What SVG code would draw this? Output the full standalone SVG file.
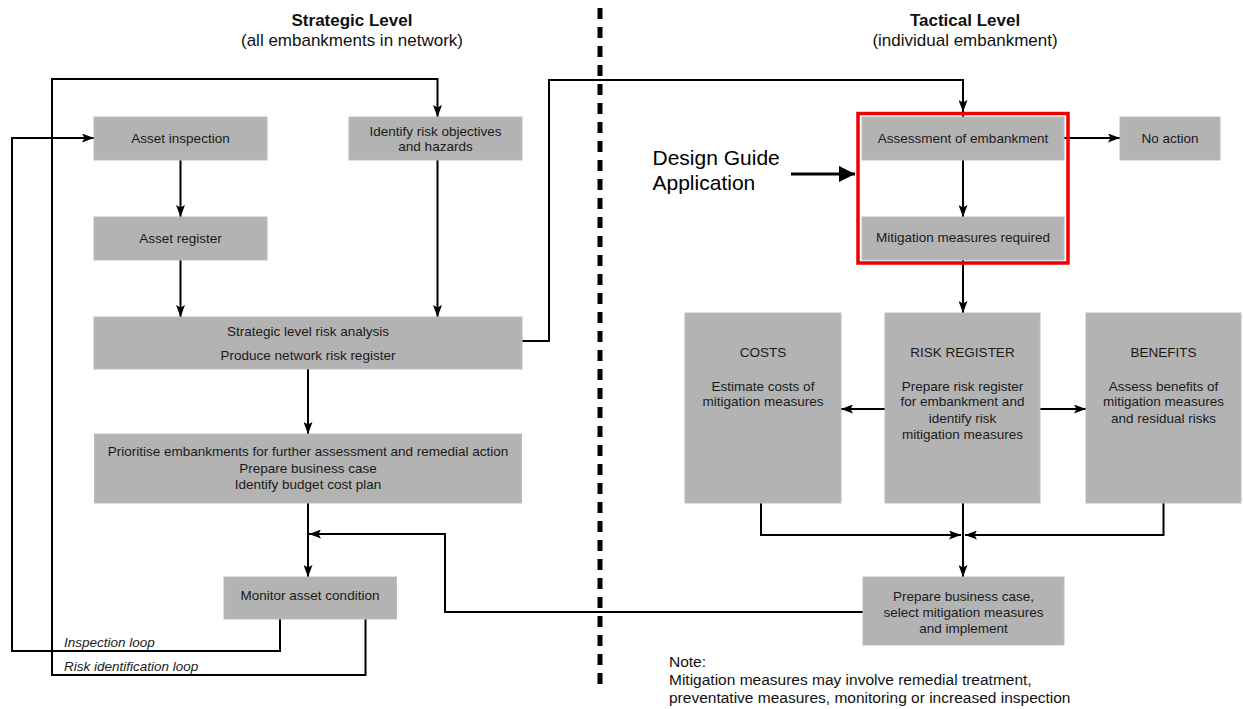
<svg xmlns="http://www.w3.org/2000/svg" width="1243" height="709" viewBox="0 0 1243 709">
<style>
  .box { fill: #b3b3b3; stroke: #bcbcbc; stroke-width: 1; }
  .t { font-family: "Liberation Sans", Arial, sans-serif; font-size: 13.5px; fill: #1a1a1a; text-anchor: middle; }
  .title { font-family: "Liberation Sans", Arial, sans-serif; font-size: 17px; fill: #111; text-anchor: middle; }
  .bold { font-weight: bold; }
  .loop { font-family: "Liberation Sans", Arial, sans-serif; font-size: 13.5px; font-style: italic; fill: #1a1a1a; }
  .note { font-family: "Liberation Sans", Arial, sans-serif; font-size: 15.5px; fill: #111; }
  .dg { font-family: "Liberation Sans", Arial, sans-serif; font-size: 21px; fill: #000; }
  .c { fill: none; stroke: #000; stroke-width: 2; }
  .a { marker-end: url(#ah); }
</style>
<defs>
  <marker id="ah" markerUnits="userSpaceOnUse" markerWidth="12" markerHeight="9" refX="12" refY="4.5" orient="auto">
    <path d="M0,0 L12,4.5 L0,9 L2.5,4.5 z" fill="#000"/>
  </marker>
  <marker id="ahBig" markerUnits="userSpaceOnUse" markerWidth="16" markerHeight="16" refX="16" refY="8" orient="auto">
    <path d="M0,0 L16,8 L0,16 z" fill="#000"/>
  </marker>
</defs>
<rect width="1243" height="709" fill="#fff"/>

<g id="titles">
  <text class="title bold" x="352" y="26">Strategic Level</text>
  <text class="title" x="352" y="46">(all embankments in network)</text>
  <text class="title bold" x="965" y="26">Tactical Level</text>
  <text class="title" x="965" y="46">(individual embankment)</text>
</g>

<g id="divider">
  <line x1="600" y1="8" x2="600" y2="688" stroke="#000" stroke-width="5" stroke-dasharray="11 8"/>
</g>

<g id="connectors">
  <path class="c a" d="M180.5,160 V217"/>
  <path class="c a" d="M180.5,260 V317"/>
  <path class="c a" d="M437.5,160 V317"/>
  <path class="c a" d="M365.5,619 V675 H52 V79 H437.5 V117"/>
  <path class="c a" d="M280,619 V651 H12 V138 H94"/>
  <path class="c a" d="M522,341 H549 V80 H963 V112"/>
  <path class="c" d="M963,112 V117"/>
  <path class="c a" d="M308,369 V434"/>
  <path class="c a" d="M308,503 V577"/>
  <path class="c a" d="M863,612 H445 V534 H309"/>
  <path class="c a" d="M1064,138 H1120"/>
  <path class="c a" d="M963,160 V217"/>
  <path class="c a" d="M963,260 V313"/>
  <path class="c a" d="M885,409 H841"/>
  <path class="c a" d="M1040,409 H1086"/>
  <path class="c a" d="M761,503 V535 H961"/>
  <path class="c a" d="M1163.5,503 V535 H965"/>
  <path class="c a" d="M963,503 V577"/>
  <path d="M791,174 H855" fill="none" stroke="#000" stroke-width="3" marker-end="url(#ahBig)"/>
</g>

<g id="asset-inspection">
  <rect class="box" x="94" y="117" width="173" height="43"/>
  <text class="t" x="180.5" y="143">Asset inspection</text>
</g>
<g id="identify-risk">
  <rect class="box" x="349" y="117" width="173" height="43"/>
  <text class="t" x="435.5" y="135.5">Identify risk objectives</text>
  <text class="t" x="435.5" y="151">and hazards</text>
</g>
<g id="asset-register">
  <rect class="box" x="94" y="217" width="173" height="43"/>
  <text class="t" x="180.5" y="243">Asset register</text>
</g>
<g id="strategic-analysis">
  <rect class="box" x="94" y="317" width="428" height="52"/>
  <text class="t" x="308" y="335.5">Strategic level risk analysis</text>
  <text class="t" x="308" y="359.5">Produce network risk register</text>
</g>
<g id="prioritise">
  <rect class="box" x="94.5" y="434" width="427" height="69"/>
  <text class="t" x="308" y="456">Prioritise embankments for further assessment and remedial action</text>
  <text class="t" x="308" y="472.5">Prepare business case</text>
  <text class="t" x="308" y="488.5">Identify budget cost plan</text>
</g>
<g id="monitor">
  <rect class="box" x="224" y="577" width="172.5" height="42"/>
  <text class="t" x="310" y="600">Monitor asset condition</text>
</g>
<g id="loop-labels">
  <text class="loop" x="64" y="647">Inspection loop</text>
  <text class="loop" x="64" y="671">Risk identification loop</text>
</g>

<g id="design-guide">
  <text class="dg" x="652.5" y="165">Design Guide</text>
  <text class="dg" x="652.5" y="190">Application</text>
  <rect x="858" y="113.5" width="210" height="149.5" fill="none" stroke="#ee0000" stroke-width="3.5"/>
</g>
<g id="assessment">
  <rect class="box" x="862" y="117" width="202" height="43"/>
  <text class="t" x="963" y="142.5">Assessment of embankment</text>
</g>
<g id="no-action">
  <rect class="box" x="1120" y="117" width="100" height="43"/>
  <text class="t" x="1170" y="142.5">No action</text>
</g>
<g id="mitigation-required">
  <rect class="box" x="862" y="217" width="202" height="43"/>
  <text class="t" x="963" y="242">Mitigation measures required</text>
</g>
<g id="costs">
  <rect class="box" x="685" y="313" width="156" height="190"/>
  <text class="t" x="763" y="357">COSTS</text>
  <text class="t" x="763" y="390.5">Estimate costs of</text>
  <text class="t" x="763" y="406">mitigation measures</text>
</g>
<g id="risk-register">
  <rect class="box" x="885" y="313" width="155" height="190"/>
  <text class="t" x="962.5" y="357">RISK REGISTER</text>
  <text class="t" x="962.5" y="390.5">Prepare risk register</text>
  <text class="t" x="962.5" y="406">for embankment and</text>
  <text class="t" x="962.5" y="422.5">identify risk</text>
  <text class="t" x="962.5" y="438.5">mitigation measures</text>
</g>
<g id="benefits">
  <rect class="box" x="1086" y="313" width="155" height="190"/>
  <text class="t" x="1163.5" y="357">BENEFITS</text>
  <text class="t" x="1163.5" y="390.5">Assess benefits of</text>
  <text class="t" x="1163.5" y="406">mitigation measures</text>
  <text class="t" x="1163.5" y="422.5">and residual risks</text>
</g>
<g id="prepare-business-case">
  <rect class="box" x="863" y="577" width="201" height="68"/>
  <text class="t" x="963.5" y="601">Prepare business case,</text>
  <text class="t" x="963.5" y="617">select mitigation measures</text>
  <text class="t" x="963.5" y="633">and implement</text>
</g>
<g id="note">
  <text class="note" x="669" y="667">Note:</text>
  <text class="note" x="669" y="685">Mitigation measures may involve remedial treatment,</text>
  <text class="note" x="669" y="703">preventative measures, monitoring or increased inspection</text>
</g>
</svg>
